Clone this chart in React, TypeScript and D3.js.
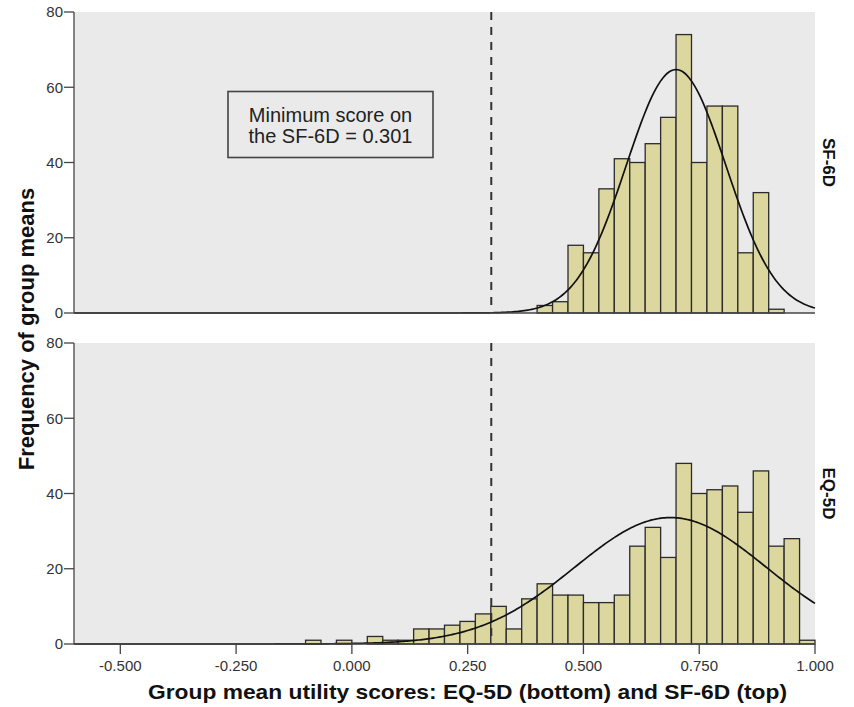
import React, { useEffect, useRef } from "react";
import * as d3 from "d3";

// histogram bins are 1/30 wide; counts start at bin index firstBin (lower edge = firstBin / 30)
const BIN_WIDTH = 1 / 30;
const sf6dFirstBin = 12;
const sf6dCounts = [2, 3, 18, 16, 33, 41, 40, 45, 52, 74, 40, 55, 55, 16, 32, 1];
const eq5dFirstBin = -3;
const eq5dCounts = [
  1, 0, 1, 0, 2, 1, 1, 4, 4, 5, 6, 8, 10, 4, 12, 16, 13, 13, 11, 11, 13, 26, 31, 23, 48, 40, 41, 42, 35, 46, 26, 28, 1,
];

// fitted normal curves (mean, sd)
const sf6dFit = { mean: 0.7, sd: 0.1075 };
const eq5dFit = { mean: 0.688, sd: 0.207 };

const xTicks = [-0.5, -0.25, 0, 0.25, 0.5, 0.75, 1.0];
const yTicks = [0, 20, 40, 60, 80];
const minScore = 0.301;

const panels = [
  { label: "SF-6D", firstBin: sf6dFirstBin, counts: sf6dCounts, fit: sf6dFit },
  { label: "EQ-5D", firstBin: eq5dFirstBin, counts: eq5dCounts, fit: eq5dFit },
];

const App: React.FC = () => {
  const svgRef = useRef<SVGSVGElement>(null);

  useEffect(() => {
    document.body.style.margin = "0";
    if (!svgRef.current) return;
    const svg = d3.select(svgRef.current);
    svg.selectAll("*").remove();

    const left = 74;
    const right = 815;
    const panelTops = [12, 343];
    const panelH = 301;
    const font = "'Liberation Sans', Arial, sans-serif";

    const x = d3.scaleLinear().domain([-0.6, 1.0]).range([left, right]);

    panels.forEach((p, i) => {
      const top = panelTops[i];
      const y = d3.scaleLinear().domain([0, 80]).range([top + panelH, top]);
      const g = svg.append("g");

      // background
      g.append("rect")
        .attr("x", left)
        .attr("y", top)
        .attr("width", right - left)
        .attr("height", panelH)
        .attr("fill", "#eaeaea");

      // bars
      const n = d3.sum(p.counts);
      g.selectAll(".bar")
        .data(p.counts.map((c, j) => ({ c, x0: (p.firstBin + j) * BIN_WIDTH })).filter((d) => d.c > 0))
        .enter()
        .append("rect")
        .attr("x", (d) => x(d.x0))
        .attr("y", (d) => y(d.c))
        .attr("width", (d) => x(d.x0 + BIN_WIDTH) - x(d.x0))
        .attr("height", (d) => y(0) - y(d.c))
        .attr("fill", "#dcd79f")
        .attr("stroke", "#2b2b2b")
        .attr("stroke-width", 1.3);

      // normal curve
      const { mean, sd } = p.fit;
      const dens = (v: number) =>
        ((n * BIN_WIDTH) / (sd * Math.sqrt(2 * Math.PI))) * Math.exp(-0.5 * ((v - mean) / sd) ** 2);
      const pts = d3.range(-0.6, 1.0001, 0.004);
      g.append("path")
        .attr("d", d3.line<number>().x((v) => x(v)).y((v) => y(dens(v)))(pts) as string)
        .attr("fill", "none")
        .attr("stroke", "#111")
        .attr("stroke-width", 1.7);

      // dashed reference line
      g.append("line")
        .attr("x1", x(minScore))
        .attr("x2", x(minScore))
        .attr("y1", top)
        .attr("y2", top + panelH)
        .attr("stroke", "#333")
        .attr("stroke-width", 2)
        .attr("stroke-dasharray", "8,7");

      // axes lines
      g.append("line")
        .attr("x1", left)
        .attr("x2", right)
        .attr("y1", y(0))
        .attr("y2", y(0))
        .attr("stroke", "#444")
        .attr("stroke-width", 1.3);
      g.append("line")
        .attr("x1", left)
        .attr("x2", left)
        .attr("y1", top)
        .attr("y2", top + panelH)
        .attr("stroke", "#444")
        .attr("stroke-width", 1.3);

      // y ticks
      yTicks.forEach((t) => {
        g.append("line")
          .attr("x1", left - 10)
          .attr("x2", left)
          .attr("y1", y(t))
          .attr("y2", y(t))
          .attr("stroke", "#444")
          .attr("stroke-width", 1.3);
        g.append("text")
          .attr("x", left - 11)
          .attr("y", y(t))
          .attr("dy", "0.36em")
          .attr("text-anchor", "end")
          .style("font-family", font)
          .style("font-size", "15px")
          .style("fill", "#333")
          .text(String(t));
      });

      // strip label on right
      g.append("text")
        .attr("transform", `translate(${right + 8}, ${top + panelH / 2}) rotate(90)`)
        .attr("text-anchor", "middle")
        .style("font-family", font)
        .style("font-size", "17px")
        .style("font-weight", "bold")
        .style("fill", "#111")
        .text(p.label);
    });

    // x ticks on bottom panel
    const base = panelTops[1] + panelH;
    const fmt = (v: number) => d3.format(".3f")(v).replace("−", "-");
    xTicks.forEach((t) => {
      svg.append("line")
        .attr("x1", x(t))
        .attr("x2", x(t))
        .attr("y1", base)
        .attr("y2", base + 10)
        .attr("stroke", "#444")
        .attr("stroke-width", 1.3);
      svg.append("text")
        .attr("x", x(t))
        .attr("y", base + 27)
        .attr("text-anchor", "middle")
        .style("font-family", font)
        .style("font-size", "15px")
        .style("fill", "#333")
        .text(fmt(t));
    });

    // annotation box
    const box = svg.append("g");
    box.append("rect")
      .attr("x", 228)
      .attr("y", 91.5)
      .attr("width", 205)
      .attr("height", 66)
      .attr("fill", "#eaeaea")
      .attr("stroke", "#444")
      .attr("stroke-width", 1.6);
    ["Minimum score on", "the SF-6D = 0.301"].forEach((s, k) => {
      box.append("text")
        .attr("x", 330.5)
        .attr("y", 122 + k * 21)
        .attr("text-anchor", "middle")
        .style("font-family", font)
        .style("font-size", "20px")
        .style("fill", "#222")
        .text(s);
    });

    // axis titles
    svg.append("text")
      .attr("x", 467.5)
      .attr("y", 699)
      .attr("text-anchor", "middle")
      .attr("textLength", 639)
      .attr("lengthAdjust", "spacingAndGlyphs")
      .style("font-family", font)
      .style("font-size", "21px")
      .style("font-weight", "bold")
      .style("fill", "#111")
      .text("Group mean utility scores: EQ-5D (bottom) and SF-6D (top)");
    svg.append("text")
      .attr("transform", `translate(34, 329) rotate(-90)`)
      .attr("text-anchor", "middle")
      .style("font-family", font)
      .style("font-size", "22px")
      .style("font-weight", "bold")
      .style("fill", "#111")
      .text("Frequency of group means");
  }, []);

  return <svg ref={svgRef} width={854} height={707} style={{ display: "block", background: "#fff" }} />;
};

export default App;
